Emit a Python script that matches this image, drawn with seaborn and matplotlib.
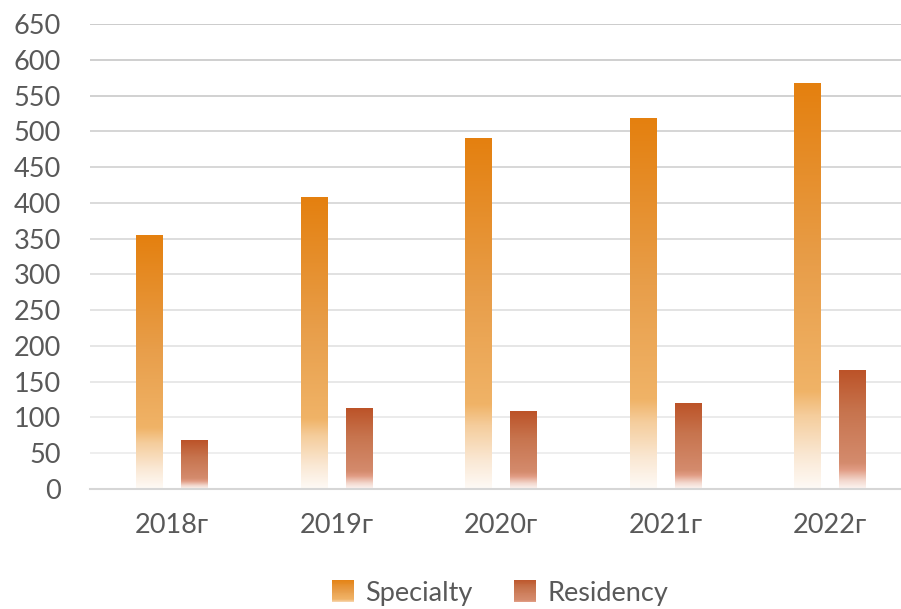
import numpy as np
import pandas as pd
import matplotlib
matplotlib.use("Agg")
import matplotlib.pyplot as plt
from matplotlib.colors import LinearSegmentedColormap, to_rgb
from matplotlib.patches import Rectangle
from matplotlib.legend_handler import HandlerBase
import seaborn as sns

years = ["2018г", "2019г", "2020г", "2021г", "2022г"]
specialty = [355, 408, 490, 518, 567]
residency = [68, 113, 109, 119, 166]
series_names = ["Specialty", "Residency"]
y_ticks = list(range(0, 651, 50))

df = pd.DataFrame({
    "year": years * 2,
    "value": specialty + residency,
    "series": [series_names[0]] * len(years) + [series_names[1]] * len(years),
})

sns.set_theme(style="white")
plt.rcParams["font.family"] = ["Lato", "Noto Sans", "DejaVu Sans"]

text_color = "#595959"
fs = 19.5

spec_cmap = LinearSegmentedColormap.from_list("spec", [
    (0.0, "#E4800F"), (0.45, "#E89E4A"), (0.76, "#F0B367"),
    (0.82, "#F5CD9C"), (0.92, "#FAE8D4"), (1.0, "#FEFAF6")])
res_cmap = LinearSegmentedColormap.from_list("res", [
    (0.0, "#BC5328"), (0.35, "#C7744E"), (0.78, "#D48B6D"),
    (0.84, "#E19C84"), (0.93, "#F3D8CE"), (1.0, "#FDF6F3")])
cmaps = [spec_cmap, res_cmap]

fig = plt.figure(figsize=(9.01, 6.09), dpi=100)
ax = fig.add_axes([90.0 / 901, 120 / 609, 822.5 / 901, 465 / 609])

sns.barplot(data=df, x="year", y="value", hue="series", hue_order=series_names,
            palette=["#E4800F", "#BC5328"], width=0.547, gap=0.40,
            legend=False, ax=ax, saturation=1)

grad = np.linspace(0, 1, 256).reshape(-1, 1)
n = len(years)
for i, p in enumerate(list(ax.patches)):
    x0 = p.get_x(); w = p.get_width(); h = p.get_height()
    cm = cmaps[i // n]
    ax.imshow(grad, extent=[x0, x0 + w, 0, h], aspect="auto", cmap=cm,
              origin="upper", zorder=2, interpolation="bilinear")
    p.set_visible(False)

ax.set_xlim(-0.5, n - 0.5)
ax.set_ylim(0, 650)
ax.set_yticks(y_ticks)
ax.set_xlabel("")
ax.set_ylabel("")

ax.yaxis.grid(True, linewidth=1.2)
ax.set_axisbelow(True)
top_c = np.array(to_rgb("#C4C4C4")); bot_c = np.array(to_rgb("#EEEEEE"))
for t, gl in zip(y_ticks, ax.get_ygridlines()):
    f = t / 650
    gl.set_color(tuple(bot_c * (1 - f) + top_c * f))

for s in ["top", "right", "left"]:
    ax.spines[s].set_visible(False)
ax.spines["bottom"].set_color("#D6D6D6")
ax.spines["bottom"].set_linewidth(1.5)

ax.tick_params(axis="y", length=0, pad=21, labelsize=fs, labelcolor=text_color)
ax.tick_params(axis="x", length=0, pad=17, labelsize=fs, labelcolor=text_color)


class GradHandler(HandlerBase):
    def __init__(self, cmap):
        super().__init__()
        self.cmap = cmap

    def create_artists(self, legend, orig_handle, xdescent, ydescent, width,
                       height, fontsize, trans):
        arts = []
        k = 24
        side = height * 1.0
        x = -xdescent + (width - side) / 2
        y0 = -ydescent + (height - side) / 2
        for j in range(k):
            frac = (j + 0.5) / k
            col = self.cmap(0.05 + 0.8 * frac)
            r = Rectangle((x, y0 + side * (1 - (j + 1) / k)), side, side / k + 0.3,
                          facecolor=col, edgecolor="none", transform=trans)
            arts.append(r)
        return arts


h1 = Rectangle((0, 0), 1, 1)
h2 = Rectangle((0, 0), 1, 1)
fig.legend([h1, h2], series_names, loc="center", bbox_to_anchor=(500 / 901, 1 - 593 / 609),
           ncol=2, frameon=False, fontsize=fs, labelcolor=text_color,
           handler_map={h1: GradHandler(spec_cmap), h2: GradHandler(res_cmap)},
           handlelength=0.85, handleheight=0.85, handletextpad=0.4, columnspacing=1.5)

fig.savefig("out.png", dpi=100)
